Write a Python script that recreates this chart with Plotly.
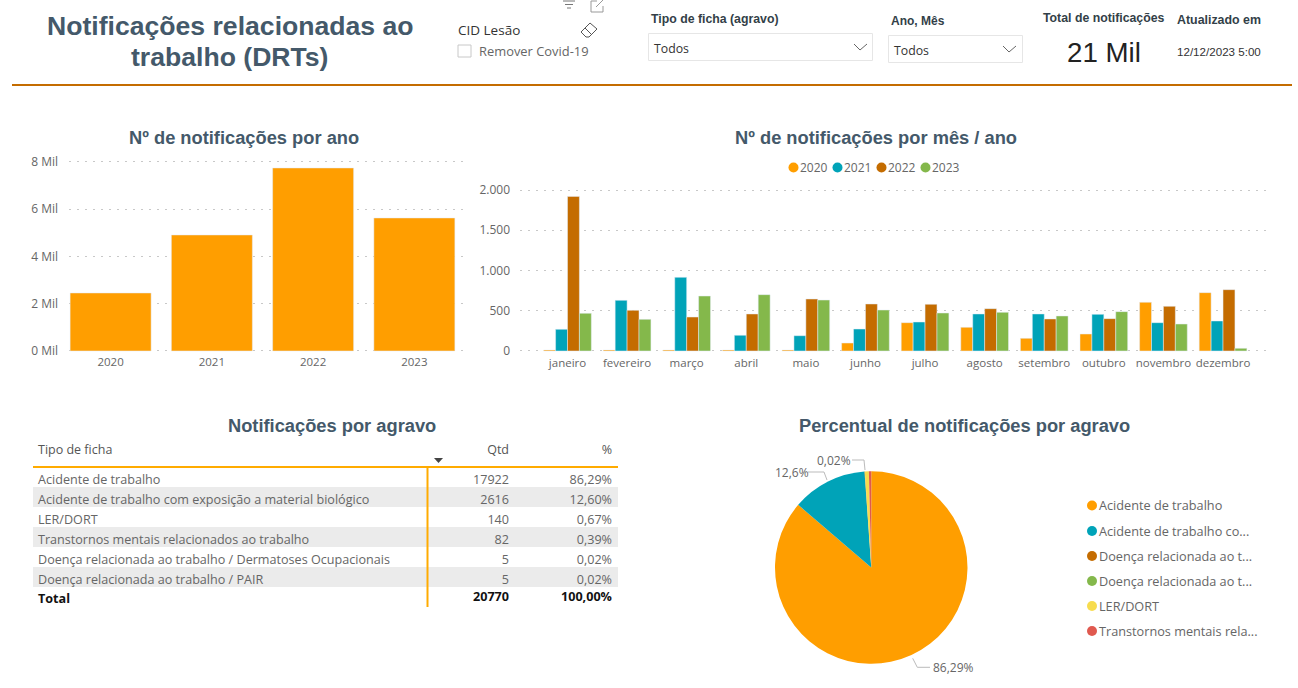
import plotly.graph_objects as go

# ==========================================
# Data
# ==========================================
anos = ["2020", "2021", "2022", "2023"]
total_por_ano = [2455, 4910, 7746, 5630]
ticks_ano = [0, 2000, 4000, 6000, 8000]
ticks_ano_txt = ["0 Mil", "2 Mil", "4 Mil", "6 Mil", "8 Mil"]

meses = ["janeiro", "fevereiro", "março", "abril", "maio", "junho", "julho",
         "agosto", "setembro", "outubro", "novembro", "dezembro"]
mes_2020 = [12, 12, 12, 12, 12, 99, 352, 294, 157, 211, 605, 725]
mes_2021 = [269, 629, 915, 195, 190, 273, 360, 460, 460, 455, 352, 373]
mes_2022 = [1921, 505, 422, 460, 646, 584, 580, 526, 398, 402, 555, 762]
mes_2023 = [468, 393, 683, 700, 633, 509, 472, 480, 435, 489, 335, 33]
ticks_mes = [0, 500, 1000, 1500, 2000]

tabela_tipo = ["Acidente de trabalho", "Acidente de trabalho com exposição a material biológico",
               "LER/DORT", "Transtornos mentais relacionados ao trabalho",
               "Doença relacionada ao trabalho / Dermatoses Ocupacionais",
               "Doença relacionada ao trabalho / PAIR"]
tabela_qtd = ["17922", "2616", "140", "82", "5", "5"]
tabela_pct = ["86,29%", "12,60%", "0,67%", "0,39%", "0,02%", "0,02%"]
total_qtd = "20770"
total_pct = "100,00%"

pie_legenda = ["Acidente de trabalho", "Acidente de trabalho co...", "Doença relacionada ao t...",
               "Doença relacionada ao t...", "LER/DORT", "Transtornos mentais rela..."]
pie_valores = [17922, 2616, 5, 5, 140, 82]

# ==========================================
# Style
# ==========================================
W, H = 1298, 688
LARANJA, AZUL, MARROM, VERDE = "#FF9E00", "#00A3B8", "#C46C00", "#84B84B"
AMARELO, VERMELHO = "#F7DC4E", "#E0594F"
pie_cores = [LARANJA, AZUL, MARROM, VERDE, AMARELO, VERMELHO]
TITULO = "#44596A"
CINZA = "#666666"
SEGOE = "Open Sans"
ARIAL = "Liberation Sans"

def px(x):
    return x / W

def py(y):
    return 1 - y / H

def dom_x(a, b):
    return [px(a), px(b)]

def dom_y(top, bottom):
    return [py(bottom), py(top)]

fig = go.Figure()

# ==========================================
# Bars
# ==========================================
fig.add_trace(go.Bar(x=anos, y=total_por_ano, marker_color=LARANJA, xaxis="x", yaxis="y"))

for nome, valores, cor in zip(anos, [mes_2020, mes_2021, mes_2022, mes_2023],
                              [LARANJA, AZUL, MARROM, VERDE]):
    fig.add_trace(go.Bar(name=nome, x=meses, y=valores, marker_color=cor, xaxis="x2", yaxis="y2"))

# ==========================================
# Table
# ==========================================
banda = ["white", "#EBEBEB", "white", "#EBEBEB", "white", "#EBEBEB"]
fig.add_trace(go.Table(
    domain=dict(x=dom_x(30, 620), y=dom_y(437, 590)),
    columnwidth=[397, 90, 103],
    header=dict(
        values=["Tipo de ficha", "Qtd", "%"],
        align=["left", "right", "right"],
        height=30,
        fill_color="white",
        line_color="white",
        font=dict(family=SEGOE, size=12.5, color="#555555"),
    ),
    cells=dict(
        values=[tabela_tipo, tabela_qtd, tabela_pct],
        align=["left", "right", "right"],
        height=20,
        fill_color=[banda, banda, banda],
        line_color="white",
        line_width=0,
        font=dict(family=SEGOE, size=12.6, color=CINZA),
    ),
))

# ==========================================
# Pie
# ==========================================
fig.add_trace(go.Pie(
    labels=pie_legenda,
    values=pie_valores,
    sort=False,
    direction="clockwise",
    rotation=0,
    marker=dict(colors=pie_cores, line=dict(width=0)),
    textinfo="none",
    showlegend=False,
    domain=dict(x=dom_x(775, 967.5), y=dom_y(471.3, 663.8)),
))

# ==========================================
# Text and decorations
# ==========================================
anns = []
shapes = []

def texto(x, y, s, size=12, color=CINZA, family=SEGOE, anchor="left"):
    anns.append(dict(x=px(x), y=py(y), xref="paper", yref="paper", text=s, showarrow=False,
                     xanchor=anchor, yanchor="middle", borderpad=0, borderwidth=0,
                     font=dict(family=family, size=size, color=color)))

def linha(x0, y0, x1, y1, color="#BBBBBB", width=1):
    shapes.append(dict(type="line", xref="paper", yref="paper", x0=px(x0), y0=py(y0),
                       x1=px(x1), y1=py(y1), line=dict(color=color, width=width)))

def caixa(x0, y0, x1, y1, color="#E6E6E6"):
    shapes.append(dict(type="rect", xref="paper", yref="paper", x0=px(x0), y0=py(y0),
                       x1=px(x1), y1=py(y1), line=dict(color=color, width=1)))

def bolinha(x, y, color, r=5):
    shapes.append(dict(type="circle", xref="paper", yref="paper", x0=px(x - r), y0=py(y - r),
                       x1=px(x + r), y1=py(y + r), fillcolor=color, line=dict(width=0)))

# header
texto(230, 26, "<b>Notificações relacionadas ao</b>", 26.6, TITULO, ARIAL, "center")
texto(229.5, 57, "<b>trabalho (DRTs)</b>", 26.6, TITULO, ARIAL, "center")
linha(12, 85, 1292, 85, MARROM, 2)

texto(458, 30, "CID Lesão", 13.5, "#333333")
caixa(458, 45, 471, 57, "#C8C8C8")
texto(479, 51, "Remover Covid-19", 12.9, CINZA)

# filter, expand and eraser icons
linha(563, 1, 575, 1, "#777777")
linha(565, 4.5, 573, 4.5, "#777777")
linha(567, 8, 571, 8, "#777777")
linha(591, 1, 591, 12, "#999999")
linha(591, 12, 603, 12, "#999999")
linha(603, 12, 603, 6, "#999999")
linha(591, 1, 597, 1, "#999999")
linha(596, 7, 603, 0, "#999999")
linha(581, 32, 590, 23, "#555555")
linha(590, 23, 597, 29, "#555555")
linha(597, 29, 589, 37, "#555555")
linha(589, 37, 586, 37, "#555555")
linha(586, 37, 581, 32, "#555555")
linha(585, 28, 592, 35, "#555555")

texto(651, 19, "<b>Tipo de ficha (agravo)</b>", 12.3, "#333F48", ARIAL)
caixa(648.5, 33.5, 872.5, 60.5)
texto(654, 48, "Todos", 12.3, "#333333")
linha(854, 44, 860, 50, "#666666")
linha(860, 50, 867, 44, "#666666")

texto(891, 21, "<b>Ano, Mês</b>", 12, "#333F48", ARIAL)
caixa(888.5, 35.5, 1022.5, 62.5)
texto(894, 50, "Todos", 12.3, "#333333")
linha(1003, 46, 1009, 52, "#666666")
linha(1009, 52, 1016, 46, "#666666")

texto(1104, 18, "<b>Total de notificações</b>", 12.3, "#333F48", ARIAL, "center")
texto(1104, 52, "21 Mil", 27.7, "#222222", ARIAL, "center")
texto(1177, 20, "<b>Atualizado em</b>", 12.4, "#333F48", ARIAL)
texto(1177, 51, "12/12/2023 5:00", 11.6, "#333333", ARIAL)

# chart titles
texto(244, 137, "<b>Nº de notificações por ano</b>", 18.3, TITULO, ARIAL, "center")
texto(876, 137, "<b>Nº de notificações por mês / ano</b>", 18.3, TITULO, ARIAL, "center")
texto(332, 425, "<b>Notificações por agravo</b>", 18.3, TITULO, ARIAL, "center")
texto(964, 425, "<b>Percentual de notificações por agravo</b>", 18.3, TITULO, ARIAL, "center")

# bar legend
for nome, cor, xc in zip(anos, [LARANJA, AZUL, MARROM, VERDE], [793.5, 837.5, 881.5, 925.5]):
    bolinha(xc, 167.5, cor)
    texto(xc + 6.5, 167, nome, 12, CINZA)

# table total row and rules (bold row is kept out of the table, cell weight is per column only)
texto(38, 598, "<b>Total</b>", 12.6, "#111111")
texto(509, 596.5, f"<b>{total_qtd}</b>", 12.6, "#111111", anchor="right")
texto(612, 596.5, f"<b>{total_pct}</b>", 12.6, "#111111", anchor="right")
for a, b in [(29, 33), (618, 621)]:
    shapes.append(dict(type="rect", xref="paper", yref="paper", x0=px(a), y0=py(437), x1=px(b), y1=py(610),
                       fillcolor="white", line=dict(width=0)))
linha(33, 467, 618, 467, "#FFAB00", 2)
linha(427.5, 467, 427.5, 607, "#FFAB00", 2)
shapes.append(dict(type="path", xref="paper", yref="paper",
                   path=f"M {px(434)} {py(458)} L {px(443)} {py(458)} L {px(438.5)} {py(463)} Z",
                   fillcolor="#444444", line=dict(width=0)))

# pie labels and leader lines
texto(933, 667, "86,29%", 12, CINZA)
linha(912.7, 658.3, 917.3, 667.3)
linha(917.3, 667.3, 930, 667.3)
texto(775, 472.5, "12,6%", 12, CINZA)
linha(808, 472, 824, 472)
linha(824, 472, 827, 480)
texto(817, 460.5, "0,02%", 12, CINZA)
linha(852, 460, 864, 460)
linha(864, 460, 865, 470)

# pie legend
for nome, cor, yc in zip(pie_legenda, pie_cores, [505.5, 531, 556, 581, 606, 631]):
    bolinha(1092, yc, cor)
    texto(1099, yc - 0.5, nome, 12.7, CINZA)

# ==========================================
# Layout
# ==========================================
eixo_y = dict(showline=False, zeroline=False, griddash="2px,6px", gridcolor="#C8C8C8", gridwidth=1,
              tickfont=dict(family=SEGOE, size=12, color=CINZA), ticks="")
eixo_x = dict(showline=False, showgrid=False, zeroline=False, ticks="", type="category",
              ticklabelstandoff=1, tickfont=dict(family=SEGOE, size=11.5, color=CINZA))

fig.update_layout(
    width=W,
    height=H,
    margin=dict(l=0, r=0, t=0, b=0, autoexpand=False),
    paper_bgcolor="white",
    plot_bgcolor="white",
    showlegend=False,
    separators=",.",
    barmode="group",
    bargap=0.2,
    bargroupgap=0,
    font=dict(family=SEGOE),
    xaxis=dict(eixo_x, domain=dom_x(69, 465), range=[-0.411, 3.5], anchor="y"),
    yaxis=dict(eixo_y, domain=dom_y(159.6, 352.4), range=[-60, 8100], tickvals=ticks_ano,
               ticktext=ticks_ano_txt, ticklabelstandoff=10, anchor="x"),
    xaxis2=dict(eixo_x, domain=dom_x(520, 1271), range=[-0.797, 11.805], anchor="y2"),
    yaxis2=dict(eixo_y, domain=dom_y(186.8, 353.4), range=[-30, 2040], tickvals=ticks_mes,
                tickformat=",d", ticklabelstandoff=9, anchor="x2"),
    annotations=anns,
    shapes=shapes,
)

fig.write_html("out.html", config={"displayModeBar": False},
               post_script="document.body.style.margin='0';")
